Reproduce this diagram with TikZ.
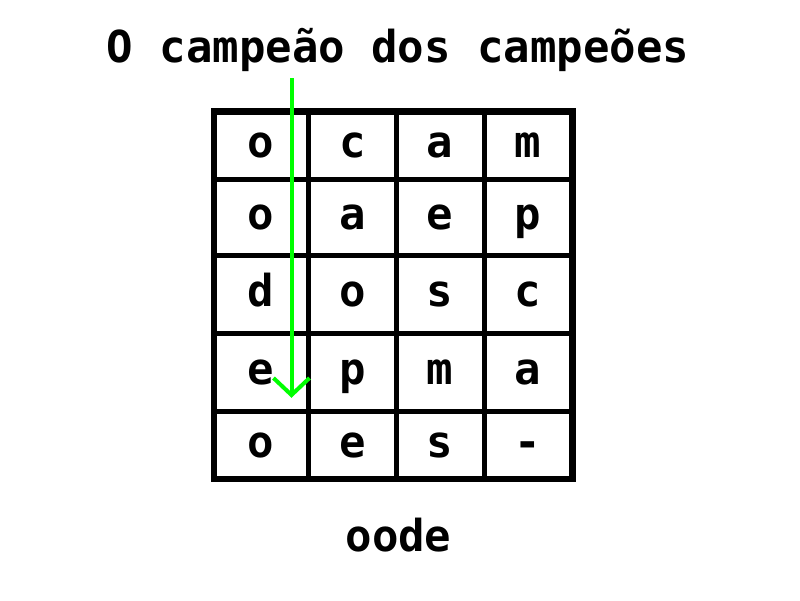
\documentclass[tikz,border=0pt]{standalone}
\usepackage{fontspec}
\setmonofont{DejaVu Sans Mono}
\usepackage{tikz}

\tikzset{
  letter/.style={anchor=base, inner sep=0pt, font=\ttfamily\bfseries\fontsize{44}{50}\selectfont},
  frame/.style={line width=6.5pt},
  gridline/.style={line width=5pt},
  readline/.style={green, line width=4pt}
}

\begin{document}
\begin{tikzpicture}[x=1pt,y=-1pt]
	  \useasboundingbox (0,0) rectangle (800,600);
	  \node [letter] (title) at (398,62) {O campeão dos campeões};
	  % the grid
	  \draw [frame] (214,111.5) rectangle (572.5,479);
	  \foreach \x in {308.5,396.5,484} \draw [gridline] (\x,111.5) -- (\x,479);
	  \foreach \y in {179.5,255.5,333.5,411.5} \draw [gridline] (214,\y) -- (572.5,\y);
	  % the letters, row by row
	  \foreach \y/\a/\b/\c/\d [count=\r] in {157/o/c/a/m, 229/o/a/e/p, 306/d/o/s/c, 384/e/p/m/a, 457/o/e/s/-} {
	    \node [letter] (c\r1) at (261,\y) {\a};
	    \node [letter] (c\r2) at (352.5,\y) {\b};
	    \node [letter] (c\r3) at (440,\y) {\c};
	    \node [letter] (c\r4) at (528,\y) {\d};
	  }
	  \node [letter] (result) at (398.5,551) {oode};
	  % reading direction
	  \coordinate (start) at (291.5,78);
	  \coordinate (tip) at (291.5,395);
	  \draw [readline] (start) -- (tip);
	  \draw [readline] (tip) ++(-18,-17) -- (tip) -- ++(18,-17);
	 \end{tikzpicture}
\end{document}
